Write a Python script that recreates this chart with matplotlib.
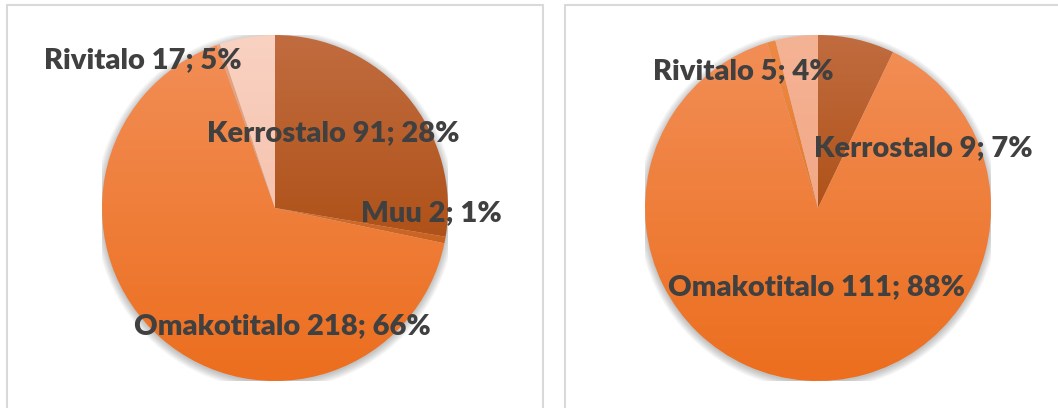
import numpy as np
import matplotlib
matplotlib.use('Agg')
import matplotlib.pyplot as plt
from matplotlib.colors import to_rgb
from matplotlib.patches import Circle, Rectangle

# data
left_names = ['Kerrostalo', 'Muu', 'Omakotitalo', '', 'Rivitalo']
left_values = [91, 2, 218, 1, 17]
right_names = ['Kerrostalo', 'Muu', 'Omakotitalo', '', 'Rivitalo']
right_values = [9, 0, 111, 1, 5]

# (top, bottom) gradient colours per slice
left_colors = [('#C16C40', '#AF5219'), ('#D26E32', '#C9621F'), ('#F28E56', '#EC6E1E'),
               ('#E9A585', '#E29670'), ('#F9D2C2', '#F6C3AE')]
right_colors = [('#C16C40', '#AF5219'), ('#D26E32', '#C9621F'), ('#F28E56', '#EC6E1E'),
                ('#EE8A45', '#E8782C'), ('#F5B395', '#F2A886')]

W, H = 1058, 408
R = 173
TEXT = '#404040'
FONT = ['Lato', 'DejaVu Sans']


def lab(name, v, total):
    return f'{name} {v}; {round(100 * v / total):.0f}%'


def draw_pie(cx, cy, names, values, colors, label_pos):
    ax = fig.add_axes([(cx - R) / W, (H - cy - R) / H, 2 * R / W, 2 * R / H])
    for i in range(8):
        ax.add_patch(Circle((0, -0.01), 1.0 + 0.006 * i, color='black', alpha=0.03, lw=0, zorder=0))
    wedges, _ = ax.pie(values, startangle=90, counterclock=False, radius=1,
                       wedgeprops=dict(linewidth=0))
    for w, (c0, c1) in zip(wedges, colors):
        w.set_facecolor('none')
        ext = w.get_path().get_extents()
        t = np.linspace(0, 1, 256)[:, None, None]
        grad = (1 - t) * np.array(to_rgb(c0)) + t * np.array(to_rgb(c1))
        grad = np.repeat(grad, 2, axis=1)
        im = ax.imshow(grad, extent=[ext.x0, ext.x1, ext.y0, ext.y1], origin='upper',
                       interpolation='bilinear', aspect='auto', zorder=2)
        im.set_clip_path(w)
    total = sum(values)
    for name, v, (px, py) in zip(names, values, label_pos):
        if px is None:
            continue
        ax.text((px - cx) / R, (cy - py) / R, lab(name, v, total), ha='center', va='center',
                fontsize=21, fontweight='heavy', color=TEXT, family=FONT, zorder=5)
    ax.set_xlim(-1, 1)
    ax.set_ylim(-1, 1)
    ax.set_aspect('equal')
    ax.axis('off')
    return ax


fig = plt.figure(figsize=(W / 100, H / 100), dpi=100)

# panel frames
for x0, x1 in [(7, 543), (565, 1070)]:
    fig.add_artist(Rectangle((x0 / W, -0.1), (x1 - x0) / W, (H - 5) / H + 0.1,
                             transform=fig.transFigure, fill=False, edgecolor='#D9D9D9', lw=1.5))

draw_pie(275, 208, left_names, left_values, left_colors,
         [(333, 133), (431, 213), (282, 326), (None, None), (143, 60)])
draw_pie(818, 208, right_names, right_values, right_colors,
         [(923, 148), (None, None), (817, 287), (None, None), (743, 71)])

fig.savefig('out.png', dpi=100)
